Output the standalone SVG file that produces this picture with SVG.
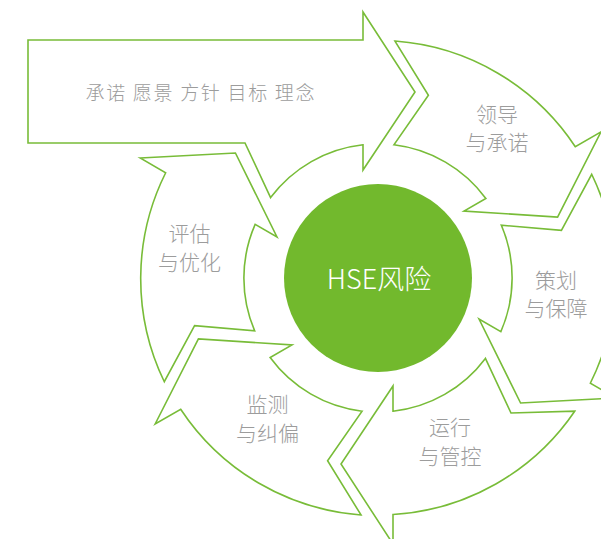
<svg xmlns="http://www.w3.org/2000/svg" xmlns:xlink="http://www.w3.org/1999/xlink" width="601" height="539" viewBox="0 0 601 539">
  <style>
    .seg { fill: #ffffff; stroke: #78bc38; stroke-width: 1.6; stroke-linejoin: miter; }
    .lbl { font-family: "Noto Sans CJK SC", "Noto Sans", sans-serif; font-size: 21px; font-weight: 300; fill: #9c9c9c; text-anchor: middle; }
    .top { font-family: "Noto Sans CJK SC", "Noto Sans", sans-serif; font-size: 19px; font-weight: 300; fill: #9c9c9c; text-anchor: middle; }
    .core { font-family: "Noto Sans CJK SC", "Noto Sans", sans-serif; font-size: 27px; font-weight: 300; fill: #ffffff; text-anchor: middle; }
  </style>
  <defs>
    <path id="ring-seg" d="M363,12 L415,92 L363,170 L363,144.8 A134,134 0 0 0 270.6,197.6 L245,143 L181.3,144.8 A237,237 0 0 1 363,41.5 Z"/>
  </defs>
  <rect width="601" height="539" fill="#ffffff"/>

  <g id="connectors"></g>

  <g id="node-commitment">
    <path class="seg" d="M28,40 L363,40 L363,12 L415,92 L363,170 L363,144.8 A134,134 0 0 0 270.6,197.6 L245,143 L28,143 Z"/>
    <text class="top" x="200" y="100" textLength="229" lengthAdjust="spacing">承诺 愿景 方针 目标 理念</text>
  </g>

  <g id="node-leadership">
    <use class="seg" xlink:href="#ring-seg" href="#ring-seg" transform="rotate(60 378 278)"/>
    <text class="lbl" x="497" y="122">领导</text>
    <text class="lbl" x="497" y="150">与承诺</text>
  </g>

  <g id="node-planning">
    <use class="seg" xlink:href="#ring-seg" href="#ring-seg" transform="rotate(120 378 278)"/>
    <text class="lbl" x="556" y="288">策划</text>
    <text class="lbl" x="556" y="316">与保障</text>
  </g>

  <g id="node-operation">
    <use class="seg" xlink:href="#ring-seg" href="#ring-seg" transform="rotate(180 378 278)"/>
    <text class="lbl" x="450" y="435">运行</text>
    <text class="lbl" x="450" y="464">与管控</text>
  </g>

  <g id="node-monitoring">
    <use class="seg" xlink:href="#ring-seg" href="#ring-seg" transform="rotate(240 378 278)"/>
    <text class="lbl" x="267.5" y="412">监测</text>
    <text class="lbl" x="267.5" y="441">与纠偏</text>
  </g>

  <g id="node-evaluation">
    <use class="seg" xlink:href="#ring-seg" href="#ring-seg" transform="rotate(300 378 278)"/>
    <text class="lbl" x="189.5" y="241">评估</text>
    <text class="lbl" x="189.5" y="270">与优化</text>
  </g>

  <g id="node-hse">
    <circle cx="378" cy="278" r="94" fill="#72b92d"/>
    <text class="core" x="379" y="289">HSE风险</text>
  </g>
</svg>
